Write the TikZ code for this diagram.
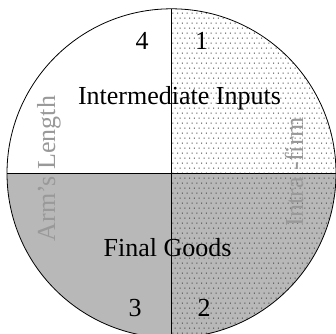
\documentclass[tikz,border=0pt]{standalone}
\usepackage{fontspec}
\setmainfont{Liberation Serif}
\usetikzlibrary{patterns}
\pgfdeclarepatternformonly{sparsedots}{\pgfqpoint{-1pt}{-1pt}}{\pgfqpoint{5.8pt}{10.8pt}}{\pgfqpoint{4.8pt}{10pt}}{%
  \pgfpathrectangle{\pgfqpoint{-0.5pt}{-0.5pt}}{\pgfqpoint{1pt}{1pt}}%
  \pgfpathrectangle{\pgfqpoint{1.9pt}{4.5pt}}{\pgfqpoint{1pt}{1pt}}%
  \pgfusepath{fill}}
\begin{document}
\begin{tikzpicture}[x=1pt,y=1pt,
  lab/.style={font=\fontsize{26}{30}\selectfont, inner sep=0pt, anchor=base},
  side/.style={lab, text=black!40, rotate=90}]
\useasboundingbox (0,0) rectangle (336,333);
\def\R{164.5}
\coordinate (c) at (171.5,159.7);
\coordinate (top) at (171.5,324.2);
\coordinate (bot) at (171.5,-4.8);
\coordinate (lft) at (7,159.7);
\coordinate (rgt) at (336,159.7);
\fill[black!28] (lft) arc[start angle=180,end angle=360,radius=\R] -- cycle;
\fill[pattern=sparsedots, pattern color=black!75] (top) arc[start angle=90,end angle=-90,radius=\R] -- cycle;
\draw[line width=0.8pt] (c) circle[radius=\R];
\draw[line width=0.8pt] (top) -- (bot);
\draw[line width=1.2pt] (lft) -- (rgt);
\node[lab] (ii) at (179.5,229) {Intermediate Inputs};
\node[lab] (fg) at (167.5,77) {Final Goods};
\node[lab] (n4) at (142,283.7) {4};
\node[lab] (n1) at (201.5,283.7) {1};
\node[lab] (n3) at (135,16.5) {3};
\node[lab] (n2) at (204,17) {2};
\node[side] (al) at (55,164.5) {Arm’s Length};
\node[side] (if) at (303,161.5) {Intra -firm};
\end{tikzpicture}
\end{document}
